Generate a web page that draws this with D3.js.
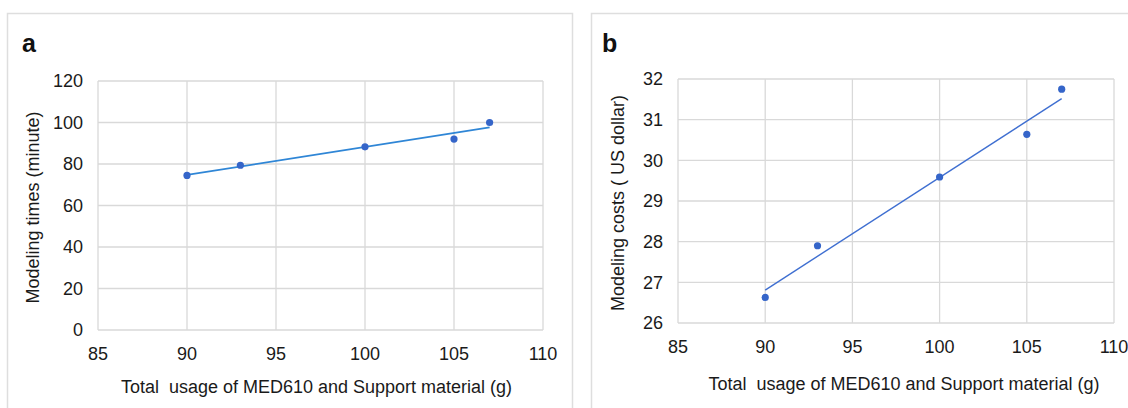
<!DOCTYPE html>
<html>
<head>
<meta charset="utf-8">
<script src="https://cdn.jsdelivr.net/npm/d3@7"></script>
<style>
  body { margin: 0; background: #fff; }
  svg { display: block; font-family: "Liberation Sans", Arial, sans-serif; }
</style>
</head>
<body>
<svg id="chart" width="1128" height="408"></svg>
<script>
const usage = [90, 93, 100, 105, 107];
const modelingTimes = [74.5, 79.4, 88.3, 92.0, 100.0];
const modelingCosts = [26.63, 27.9, 29.59, 30.64, 31.75];
const xTicks = [85, 90, 95, 100, 105, 110];
const timeTicks = [0, 20, 40, 60, 80, 100, 120];
const costTicks = [26, 27, 28, 29, 30, 31, 32];

const svg = d3.select("#chart");

// panel frames
svg.append("rect").attr("x", 7.5).attr("y", 13.5).attr("width", 565).attr("height", 420)
  .attr("fill", "none").attr("stroke", "#dedede").attr("stroke-width", 1.5);
svg.append("rect").attr("x", 591.5).attr("y", 13.5).attr("width", 560).attr("height", 420)
  .attr("fill", "none").attr("stroke", "#dedede").attr("stroke-width", 1.5);

function fit(xs, ys) {
  const mx = d3.mean(xs), my = d3.mean(ys);
  const sxy = d3.sum(xs, (x, i) => (x - mx) * (ys[i] - my));
  const sxx = d3.sum(xs, x => (x - mx) * (x - mx));
  const b = sxy / sxx;
  return x => my + b * (x - mx);
}

function drawPanel(opts) {
  const g = svg.append("g");
  const x = d3.scaleLinear().domain([85, 110]).range([opts.left, opts.right]);
  const y = d3.scaleLinear().domain(opts.yDomain).range([opts.bottom, opts.top]);

  // grid
  g.selectAll(".vg").data(xTicks).enter().append("line")
    .attr("x1", d => x(d)).attr("x2", d => x(d))
    .attr("y1", opts.top).attr("y2", opts.bottom)
    .attr("stroke", "#d9d9d9").attr("stroke-width", 1.3);
  g.selectAll(".hg").data(opts.yTicks).enter().append("line")
    .attr("x1", opts.left).attr("x2", opts.right)
    .attr("y1", d => y(d)).attr("y2", d => y(d))
    .attr("stroke", "#d9d9d9").attr("stroke-width", 1.3);

  // tick labels
  g.selectAll(".xt").data(xTicks).enter().append("text")
    .attr("x", d => x(d)).attr("y", opts.bottom + opts.xTickGap)
    .attr("text-anchor", "middle").attr("font-size", 18).attr("fill", "#1a1a1a")
    .text(d => d);
  g.selectAll(".yt").data(opts.yTicks).enter().append("text")
    .attr("x", opts.left - 15).attr("y", d => y(d)).attr("dy", "0.36em")
    .attr("text-anchor", "end").attr("font-size", 18).attr("fill", "#1a1a1a")
    .text(d => d);

  // titles
  g.append("text").attr("x", (opts.left + opts.right) / 2 + opts.xTitleShift).attr("y", opts.xTitleY)
    .attr("text-anchor", "middle").attr("font-size", 18).attr("fill", "#1a1a1a")
    .style("white-space", "pre")
    .text("Total  usage of MED610 and Support material (g)");
  g.append("text")
    .attr("transform", `translate(${opts.yTitleX},${(opts.top + opts.bottom) / 2 + 2}) rotate(-90)`)
    .attr("text-anchor", "middle").attr("dy", "0.35em").attr("font-size", 18).attr("fill", "#1a1a1a")
    .text(opts.yTitle);
  g.append("text").attr("x", opts.labelX).attr("y", 52)
    .attr("font-size", 25).attr("font-weight", "bold").attr("fill", "#111")
    .text(opts.label);

  // trend line
  const f = fit(usage, opts.values);
  const x0 = d3.min(usage), x1 = d3.max(usage);
  g.append("line")
    .attr("x1", x(x0)).attr("y1", y(f(x0)))
    .attr("x2", x(x1)).attr("y2", y(f(x1)))
    .attr("stroke", opts.lineColor).attr("stroke-width", opts.lineWidth);

  // points
  g.selectAll(".pt").data(usage).enter().append("circle")
    .attr("cx", d => x(d)).attr("cy", (d, i) => y(opts.values[i]))
    .attr("r", 3.6).attr("fill", "#3565c9");
}

drawPanel({
  left: 98, right: 543, top: 81, bottom: 330,
  yDomain: [0, 120], yTicks: timeTicks, values: modelingTimes,
  yTitle: "Modeling times (minute)", yTitleX: 33,
  xTickGap: 30, xTitleY: 393, xTitleShift: -4,
  label: "a", labelX: 22, lineColor: "#2f86d6", lineWidth: 1.8
});

drawPanel({
  left: 678, right: 1114, top: 79, bottom: 323,
  yDomain: [26, 32], yTicks: costTicks, values: modelingCosts,
  yTitle: "Modeling costs ( US dollar)", yTitleX: 618,
  xTickGap: 30, xTitleY: 390, xTitleShift: 8,
  label: "b", labelX: 602, lineColor: "#3f6fd1", lineWidth: 1.4
});
</script>
</body>
</html>
